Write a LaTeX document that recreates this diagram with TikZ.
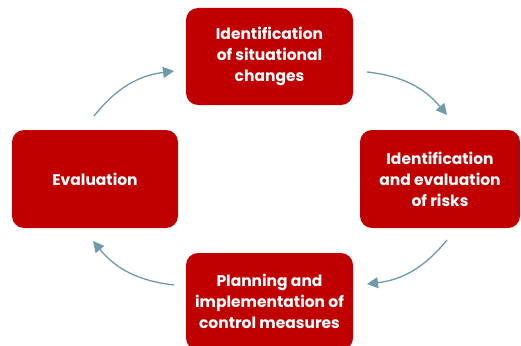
\documentclass[tikz,border=0pt]{standalone}
\usepackage{fontspec}
\setmainfont{Poppins}
\usetikzlibrary{arrows.meta}
\definecolor{boxred}{HTML}{C00000}
\definecolor{arrowc}{HTML}{6F9BA8}
\begin{document}
\begin{tikzpicture}[x=1pt,y=-1pt,
  stagebox/.style={fill=boxred, rounded corners=12pt, text=white, font=\bfseries\fontsize{15.5}{21}\selectfont, align=center, inner sep=0pt},
  cyc/.style={draw=arrowc, line width=1.3pt, -{Triangle[length=11pt,width=11pt]}}]
\useasboundingbox (0,0) rectangle (521,345);
\clip (0,0) rectangle (521,345);
\fill[white] (0,0) rectangle (521,345);
\node[stagebox, minimum width=167pt, minimum height=97pt] (top) at (269.5,56.5) {Identification\\of situational\\changes};
\node[stagebox, minimum width=160pt, minimum height=98pt] (right) at (440,179) {Identification\\and evaluation\\of risks};
\node[stagebox, minimum width=166pt, minimum height=98pt] (left) at (95,179) {Evaluation};
\node[stagebox, minimum width=167pt, minimum height=97pt] (bottom) at (269.5,301.5) {Planning and\\implementation of\\control measures};
\coordinate (a1s) at (367,72);  \coordinate (a1e) at (447,115);
\coordinate (a2s) at (447,240); \coordinate (a2e) at (367,284);
\coordinate (a3s) at (174,285); \coordinate (a3e) at (93,241);
\coordinate (a4s) at (94,116);  \coordinate (a4e) at (174,71);
\draw[cyc] (a1s) to[bend left=22] (a1e);
\draw[cyc] (a2s) to[bend left=22] (a2e);
\draw[cyc] (a3s) to[bend left=22] (a3e);
\draw[cyc] (a4s) to[bend left=22] (a4e);
\end{tikzpicture}
\end{document}
